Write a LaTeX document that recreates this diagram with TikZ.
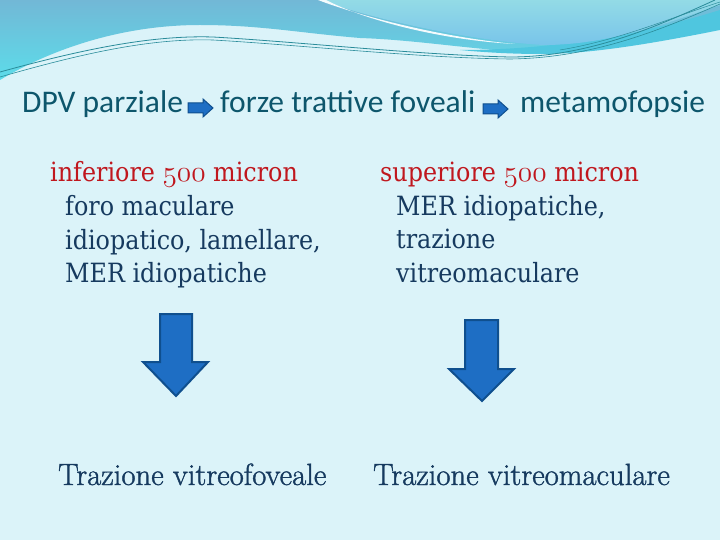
\documentclass[tikz,border=0pt]{standalone}
\usepackage{graphicx}
\usepackage{fontspec}
\newfontfamily\titlefont{Carlito}
\newfontfamily\bodyfont{DejaVu Serif Condensed}
\newfontfamily\bottomfont{Latin Modern Roman}[FakeBold=1.2]
\newcommand{\osfnum}[1]{\scalebox{1.18}{$\mathnormal{#1}$}}
\begin{document}
\begin{tikzpicture}[x=1pt,y=-1pt,
  titletext/.style={anchor=base west,inner sep=0pt,font=\titlefont\fontsize{31.5}{36}\selectfont,text=titlecol},
  bodytext/.style={anchor=base west,inner sep=0pt,font=\bodyfont\fontsize{26.5}{33}\selectfont,text=navy},
  redtext/.style={anchor=base west,inner sep=0pt,font=\bodyfont\fontsize{26.5}{33}\selectfont,text=redcol},
  bottomtext/.style={anchor=base west,inner sep=0pt,font=\bottomfont\fontsize{30.7}{36}\selectfont,text=navy},
  blockarrow/.style={fill=arrowfill,draw=arrowedge,line width=2pt,line join=miter},
  smallarrow/.style={fill=arrowfill,draw=arrowedge,line width=1pt,line join=miter},
  thinline/.style={draw=linecol,line width=0.8pt}]
\definecolor{bg}{HTML}{DBF3F9}
\definecolor{titlecol}{HTML}{0D566C}
\definecolor{navy}{HTML}{163A5F}
\definecolor{redcol}{HTML}{C0171E}
\definecolor{arrowfill}{HTML}{1E6EC4}
\definecolor{arrowedge}{HTML}{0F4F8E}
\definecolor{linecol}{HTML}{2A8C9A}
\definecolor{bluetop}{HTML}{72B8D6}
\definecolor{bluebot}{HTML}{5CDCEA}
\definecolor{lighttop}{HTML}{93DBE6}
\definecolor{lightbot}{HTML}{78C4EA}
\definecolor{cyanband}{HTML}{4FC6DF}
\useasboundingbox (0,0) rectangle (720,540);
\fill[bg] (0,0) rectangle (720,540);
% main blue wave
\shade[top color=bluetop,bottom color=bluebot]
  (0,0) -- (720,0) -- (720,28)
  .. controls (660,40) and (600,53) .. (543,53)
  .. controls (480,51) and (420,40) .. (360,38)
  .. controls (300,33) and (260,25) .. (200,25)
  .. controls (120,25) and (50,50) .. (0,80) -- cycle;
% cyan band at right
\fill[cyanband] (460,50) .. controls (560,50) and (650,32) .. (720,10)
  -- (720,30) .. controls (650,44) and (590,54) .. (540,54)
  .. controls (510,54) and (480,52) .. (460,50) -- cycle;
% lighter top-right region
\shade[top color=lighttop,bottom color=lightbot]
  (320,0) .. controls (360,15) and (460,40) .. (543,45)
  .. controls (610,45) and (670,22) .. (720,5) -- (720,0) -- cycle;
\fill[white!70!bg] (318,0) .. controls (360,16) and (440,37) .. (515,44)
  .. controls (440,40) and (365,20) .. (326,0) -- cycle;
% thin lines
\draw[thinline] (0,72) .. controls (80,50) and (150,35) .. (213,37)
  .. controls (300,42) and (420,55) .. (510,57)
  .. controls (590,57) and (660,25) .. (715,0);
\draw[thinline,line width=0.6pt] (0,77) .. controls (80,54) and (150,38) .. (213,40)
  .. controls (300,45) and (420,58) .. (510,59)
  .. controls (595,58) and (665,28) .. (720,4);
\draw[thinline,line width=0.5pt] (560,50) .. controls (620,40) and (670,18) .. (720,2);
% title
\node[titletext] (t1) at (22,113) {DPV parziale};
\node[titletext] (t2) at (220,113) {forze trattive foveali};
\node[titletext] (t3) at (520,113) {metamofopsie};
% small arrows
\draw[smallarrow] (188,103) -- (203,103) -- (203,99) -- (213,108) -- (203,117) -- (203,113) -- (188,113) -- cycle;
\draw[smallarrow] (483,104) -- (498,104) -- (498,100) -- (508,109) -- (498,118) -- (498,114) -- (483,114) -- cycle;
% left block
\node[redtext] (l0) at (50,182) {inferiore \osfnum{500} micron};
\node[bodytext] (l1) at (65,215) {foro maculare};
\node[bodytext] (l2) at (65,249) {idiopatico, lamellare,};
\node[bodytext] (l3) at (65,282) {MER idiopatiche};
% right block
\node[redtext] (r0) at (380,182) {superiore \osfnum{500} micron};
\node[bodytext] (r1) at (396,215) {MER idiopatiche,};
\node[bodytext] (r2) at (396,248) {trazione};
\node[bodytext] (r3) at (396,282) {vitreomaculare};
% down arrows
\draw[blockarrow] (160,314) -- (192,314) -- (192,362) -- (208,362) -- (176,396) -- (143,362) -- (160,362) -- cycle;
\draw[blockarrow] (465,320) -- (498,320) -- (498,369) -- (514,369) -- (482,401) -- (449,369) -- (465,369) -- cycle;
% bottom
\node[bottomtext] (b1) at (58,485) {Trazione vitreofoveale};
\node[bottomtext] (b2) at (373,485) {Trazione vitreomaculare};
\end{tikzpicture}
\end{document}
